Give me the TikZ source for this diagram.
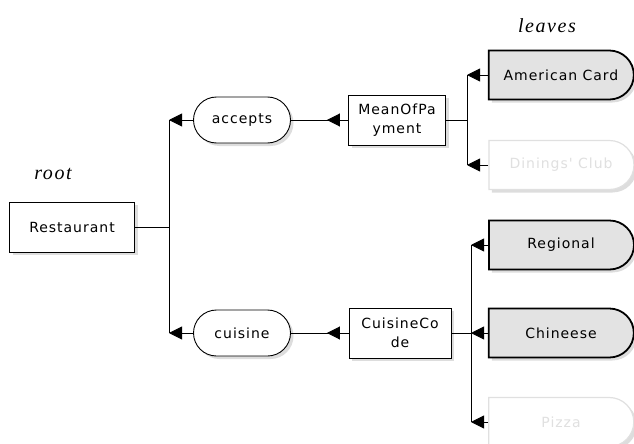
\documentclass[tikz,border=0pt]{standalone}
\usepackage{fontspec}
\usetikzlibrary{arrows.meta,shapes.misc,shadows}
\newfontfamily\boxfont[LetterSpace=7]{DejaVu Sans}
\newfontfamily\notefont[LetterSpace=8]{Liberation Serif}
\definecolor{leafgray}{HTML}{E3E3E3}
\definecolor{fadegray}{HTML}{E0E0E0}
\definecolor{shadowgray}{HTML}{DDDDDD}

\tikzset{
    txt/.style={font=\boxfont\fontsize{14}{19}\selectfont, align=center, inner sep=0pt},
    note/.style={font=\notefont\itshape\fontsize{20}{22}\selectfont, inner sep=0pt},
    shade/.style={drop shadow={shadow xshift=3pt, shadow yshift=-3pt, fill=shadowgray, opacity=1}},
    classbox/.style={txt, draw, fill=white, line width=0.9pt, minimum width=#1, minimum height=50pt, shade},
    relbox/.style={txt, draw, fill=white, line width=0.9pt, rounded corners=23pt, minimum width=97pt, minimum height=46pt, shade},
    leafbox/.style={txt, rounded rectangle, rounded rectangle west arc=none, minimum width=145pt, minimum height=49pt, shade},
    leafon/.style={leafbox, draw, fill=leafgray, line width=1.8pt},
    leafoff/.style={leafbox, draw=fadegray, fill=white, text=fadegray, line width=1.2pt},
    arr/.style={-{Triangle[length=13pt,width=13pt]}, line width=0.9pt},
    wire/.style={line width=0.9pt}
}

\begin{document}
\begin{tikzpicture}[x=1pt,y=-1pt]
    \useasboundingbox (0,0) rectangle (634,444);

    \node[note] (rootlbl) at (53,174) {root};
    \node[note] (leaflbl) at (547,26) {leaves};

    \node[classbox=125pt] (rest) at (72,227) {Restaurant};

    \node[relbox] (acc) at (242,120) {accepts};
    \node[relbox] (cui) at (242,333) {cuisine};

    \node[classbox=97pt] (mop) at (397,120) {MeanOfPa\\yment};
    \node[classbox=102pt] (code) at (400,333) {CuisineCo\\de};

    \node[leafon] (amer) at (561,75) {American Card};
    \node[leafoff] (dine) at (561,165) {Dinings' Club};

    \node[leafon] (reg) at (561,245) {Regional};
    \node[leafon] (chin) at (561,333) {Chineese};
    \node[leafoff] (piz) at (561,422) {Pizza};

    \coordinate (fork1) at (169,227);
    \coordinate (fork2) at (467,120);
    \coordinate (fork3) at (471,333);

    % root to its relations
    \draw[wire] (rest.east) -- (fork1);
    \draw[wire] (acc.west -| fork1) -- (cui.west -| fork1);
    \draw[arr] (acc.west) -- (acc.west -| fork1);
    \draw[arr] (cui.west) -- (cui.west -| fork1);

    % relations to their types
    \draw[wire] (mop.west) -- (acc.east);
    \draw[arr, shorten >=36pt] (mop.west) -- (acc.east);
    \draw[wire] (code.west) -- (cui.east);
    \draw[arr, shorten >=36pt] (code.west) -- (cui.east);

    % types to leaves
    \draw[wire] (mop.east) -- (fork2);
    \draw[wire] (amer.west -| fork2) -- (dine.west -| fork2);
    \draw[arr] (amer.west) -- (amer.west -| fork2);
    \draw[arr] (dine.west) -- (dine.west -| fork2);

    \draw[wire] (code.east) -- (fork3);
    \draw[wire] (reg.west -| fork3) -- (piz.west -| fork3);
    \draw[arr] (reg.west) -- (reg.west -| fork3);
    \draw[arr] (chin.west) -- (chin.west -| fork3);
    \draw[arr] (piz.west) -- (piz.west -| fork3);

\end{tikzpicture}
\end{document}
